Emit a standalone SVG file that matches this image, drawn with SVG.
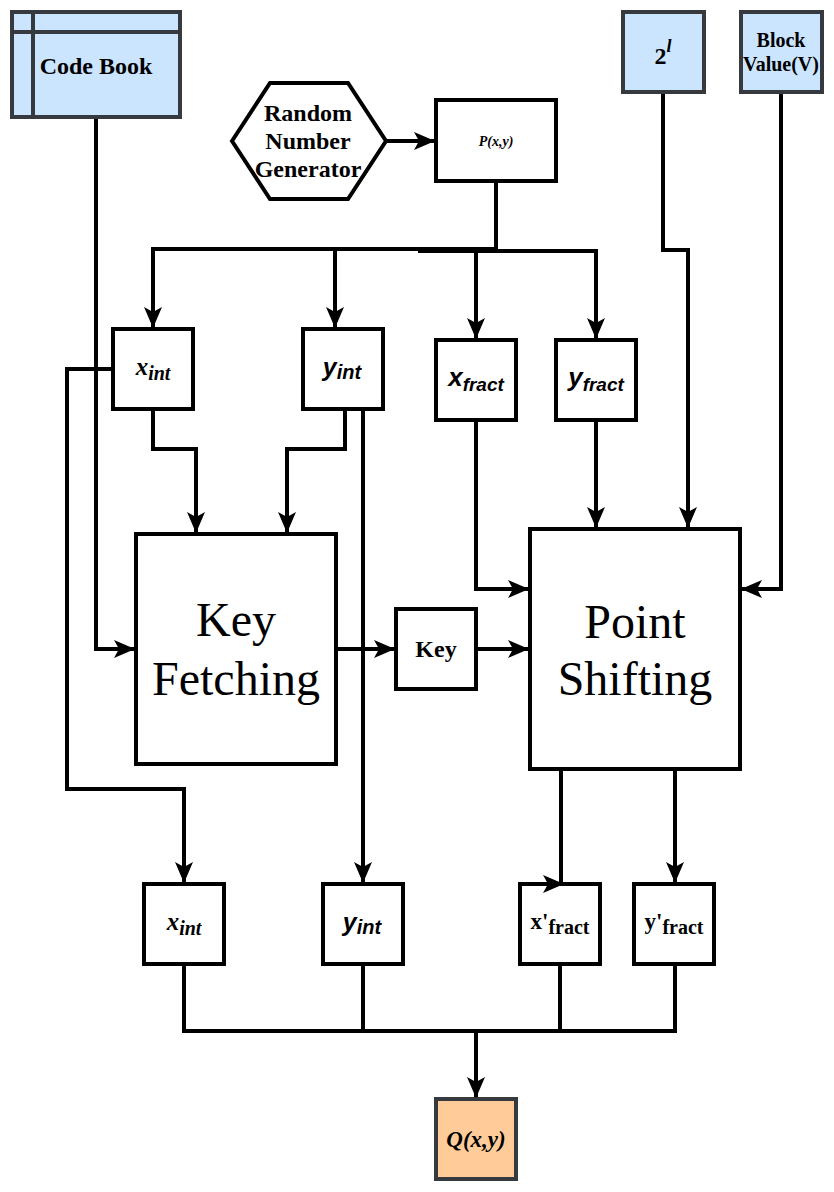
<svg xmlns="http://www.w3.org/2000/svg" width="834" height="1192" viewBox="0 0 834 1192">
<style>
.n{fill:#fff;stroke:#000;stroke-width:4}
.b{fill:#cce5ff;stroke:#36393d;stroke-width:4}
.o{fill:#ffcc99;stroke:#36393d;stroke-width:4}
.c{fill:none;stroke:#000;stroke-width:4}
.s{font-family:"Liberation Serif",serif;fill:#000;text-anchor:middle}
.ss{font-family:"Liberation Sans",sans-serif;fill:#000;text-anchor:middle}
</style>
<defs>
<marker id="a" markerUnits="userSpaceOnUse" markerWidth="22" markerHeight="20" viewBox="0 0 22 20" refX="20" refY="10" orient="auto">
<path d="M0,1 L21,10 L0,19 L5,10 z" fill="#000"/>
</marker>
</defs>
<g id="codebook">
<rect class="b" x="12" y="12" width="168" height="105"/>
<path d="M12,32 H180 M33,12 V117" stroke="#36393d" stroke-width="4" fill="none"/>
<text class="s" x="96" y="74" font-size="24" font-weight="bold">Code Book</text>
</g>
<g id="rng">
<polygon class="n" points="232,141 270,83 348,83 386,141 348,199 270,199"/>
<text class="s" font-size="24" font-weight="bold"><tspan x="308" y="121">Random</tspan><tspan x="308" y="149">Number</tspan><tspan x="308" y="177">Generator</tspan></text>
</g>
<g id="pxy">
<rect class="n" x="436" y="100" width="120" height="81"/>
<text class="s" x="496" y="146" font-size="14" font-weight="bold" font-style="italic">P(x,y)</text>
</g>
<g id="two-l">
<rect class="b" x="623" y="12" width="81" height="80"/>
<text class="s" x="663" y="64" font-size="24" font-weight="bold">2<tspan font-style="italic" font-size="18" dy="-12">l</tspan></text>
</g>
<g id="blockvalue">
<rect class="b" x="741" y="12" width="81" height="80"/>
<text class="s" font-size="20" font-weight="bold"><tspan x="781" y="47">Block</tspan><tspan x="781" y="71">Value(V)</tspan></text>
</g>
<g id="xint-top">
<rect class="n" x="113" y="329" width="80" height="80"/>
<text class="s" x="153" y="375" font-size="25" font-style="italic" font-weight="bold">x<tspan font-size="20" dy="5">int</tspan></text>
</g>
<g id="yint-top">
<rect class="n" x="303" y="329" width="80" height="80"/>
<text class="ss" x="342" y="376" font-size="25" font-style="italic" font-weight="bold">y<tspan font-size="20" dy="3">int</tspan></text>
</g>
<g id="xfract">
<rect class="n" x="436" y="340" width="80" height="80"/>
<text class="ss" x="476" y="386" font-size="26" font-style="italic" font-weight="bold">x<tspan font-size="19" dy="5">fract</tspan></text>
</g>
<g id="yfract">
<rect class="n" x="556" y="340" width="80" height="80"/>
<text class="ss" x="596" y="386" font-size="26" font-style="italic" font-weight="bold">y<tspan font-size="19" dy="5">fract</tspan></text>
</g>
<g id="keyfetching">
<rect class="n" x="136" y="534" width="200" height="230"/>
<text class="s" font-size="48"><tspan x="236" y="636">Key</tspan><tspan x="236" y="695">Fetching</tspan></text>
</g>
<g id="key">
<rect class="n" x="396" y="609" width="80" height="80"/>
<text class="s" x="436" y="657" font-size="24" font-weight="bold">Key</text>
</g>
<g id="pointshifting">
<rect class="n" x="530" y="529" width="210" height="240"/>
<text class="s" font-size="48"><tspan x="635" y="638">Point</tspan><tspan x="635" y="695">Shifting</tspan></text>
</g>
<g id="xint-bottom">
<rect class="n" x="144" y="884" width="80" height="80"/>
<text class="s" x="184" y="930" font-size="25" font-style="italic" font-weight="bold">x<tspan font-size="20" dy="5">int</tspan></text>
</g>
<g id="yint-bottom">
<rect class="n" x="323" y="884" width="80" height="80"/>
<text class="ss" x="362" y="931" font-size="25" font-style="italic" font-weight="bold">y<tspan font-size="20" dy="3">int</tspan></text>
</g>
<g id="xfract-prime">
<rect class="n" x="520" y="884" width="80" height="80"/>
<text class="s" x="560" y="929" font-size="23" font-weight="bold">x'<tspan font-size="20" dy="5">fract</tspan></text>
</g>
<g id="yfract-prime">
<rect class="n" x="634" y="884" width="80" height="80"/>
<text class="s" x="674" y="929" font-size="23" font-weight="bold">y'<tspan font-size="20" dy="5">fract</tspan></text>
</g>
<g id="qxy">
<rect class="o" x="436" y="1099" width="80" height="80"/>
<text class="s" x="476" y="1147" font-size="23" font-weight="bold" font-style="italic">Q(x,y)</text>
</g>
<g id="connectors">
<path class="c" d="M386,141 H434" marker-end="url(#a)"/>
<path class="c" d="M496,183 V249 H153 V327" marker-end="url(#a)"/>
<path class="c" d="M335,249 V327" marker-end="url(#a)"/>
<path class="c" d="M418,251 H596 V338" marker-end="url(#a)"/>
<path class="c" d="M476,251 V338" marker-end="url(#a)"/>
<path class="c" d="M153,411 V449 H196 V532" marker-end="url(#a)"/>
<path class="c" d="M345,411 V449 H287 V532" marker-end="url(#a)"/>
<path class="c" d="M363,411 V882" marker-end="url(#a)"/>
<path class="c" d="M111,369 H67 V789 H184 V882" marker-end="url(#a)"/>
<path class="c" d="M96,119 V649 H134" marker-end="url(#a)"/>
<path class="c" d="M338,649 H394" marker-end="url(#a)"/>
<path class="c" d="M478,649 H528" marker-end="url(#a)"/>
<path class="c" d="M476,422 V589 H528" marker-end="url(#a)"/>
<path class="c" d="M596,422 V527" marker-end="url(#a)"/>
<path class="c" d="M663,94 V250 H688 V527" marker-end="url(#a)"/>
<path class="c" d="M781,94 V589 H742" marker-end="url(#a)"/>
<path class="c" d="M561,771 V884 H563" marker-end="url(#a)"/>
<path class="c" d="M675,771 V882" marker-end="url(#a)"/>
<path class="c" d="M184,966 V1031 H476"/>
<path class="c" d="M363,966 V1031"/>
<path class="c" d="M560,966 V1031"/>
<path class="c" d="M675,966 V1031 H476 V1097" marker-end="url(#a)"/>
</g>
</svg>
